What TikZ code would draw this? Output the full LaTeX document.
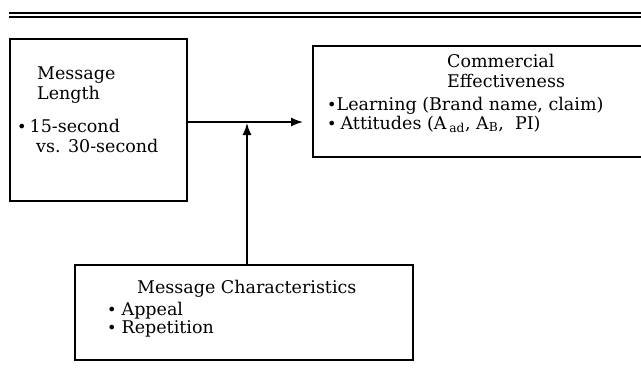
\documentclass[tikz,border=0pt]{standalone}
\usepackage{fontspec}
\setmainfont{DejaVu Serif}
\usetikzlibrary{arrows.meta}
\tikzset{
  panel/.style={draw, line width=1.5pt, rectangle, anchor=north west, inner sep=0pt},
  txt/.style={anchor=base west, inner sep=0pt, font=\fontsize{17.5}{20}\selectfont},
  link/.style={line width=1.5pt, -{Latex[length=12pt,width=9pt]}}
}
\newcommand{\dotitem}[1][5pt]{{\fontsize{16}{16}\selectfont\textbullet}\hspace{#1}}

\begin{document}
\begin{tikzpicture}[x=1pt,y=-1pt]
\useasboundingbox (0,0) rectangle (641,368);
\clip (0,0) rectangle (641,368);

% rule at the top
\draw[line width=1.5pt] (9,13) -- (660,13);
\draw[line width=1.5pt] (9,17) -- (660,17);

% boxes
\node[panel, minimum width=177pt, minimum height=162pt] (length) at (9,38) {};
\node[panel, minimum width=348pt, minimum height=111pt] (effect) at (312,45) {};
\node[panel, minimum width=338pt, minimum height=95pt] (traits) at (74,264) {};

% texts
\node[txt] (lenA) at (37,79) {Message};
\node[txt] (lenB) at (37,99) {Length};
\node[txt] (lenC) at (17,132) {\dotitem[3pt]15-second};
\node[txt] (lenD) at (36,152) {vs. 30-second};

\node[txt] (effA) at (447,67) {Commercial};
\node[txt] (effB) at (447,87) {Effectiveness};
\node[txt] (effC) at (327,110) {\dotitem[0pt]Learning (Brand name, claim)};
\node[txt] (effD) at (327,129) {\dotitem[4pt]Attitudes (A\,\textsubscript{ad}, A\textsubscript{B}, \ PI)};

\node[txt] (trA) at (137,293) {Message Characteristics};
\node[txt] (trB) at (107,315) {\dotitem Appeal};
\node[txt] (trC) at (107,333) {\dotitem Repetition};

% connectors
\coordinate (join) at (247,122);
\draw[link] (length.east |- join) -- ([xshift=-9pt]effect.west |- join);
\draw[link] (traits.north -| join) -- ([yshift=-1pt]join);

\end{tikzpicture}
\end{document}
